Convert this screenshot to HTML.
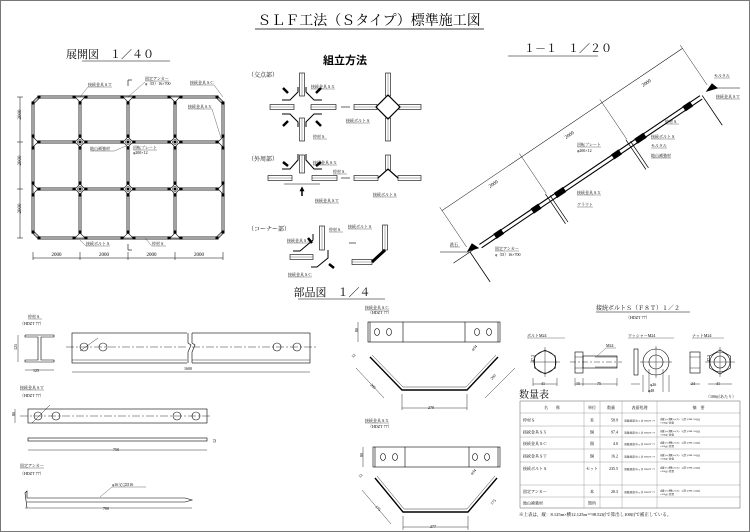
<!DOCTYPE html>
<html><head><meta charset="utf-8"><style>
html,body{margin:0;padding:0;background:#fff}
svg{display:block}
text{font-family:"Liberation Serif","Noto Serif CJK SC","Noto Sans CJK JP",serif;fill:#000}
.s{font-size:4px}.m{font-size:6px}.l{font-size:11px}
</style></head><body>
<svg id="d" width="750" height="532" viewBox="0 0 750 532" xmlns="http://www.w3.org/2000/svg">
<rect x="0.5" y="0.5" width="749" height="531" fill="#fff" stroke="#777" stroke-width="1"/>
<text x="369" y="25" text-anchor="middle" font-size="14">ＳＬＦ工法（Ｓタイプ）標準施工図</text>
<line x1="255" y1="29" x2="484" y2="29" stroke="#000" stroke-width="0.8"/>
<text x="110" y="58" text-anchor="middle" class="l">展開図　１／４０</text>
<line x1="82" y1="61" x2="170" y2="61" stroke="#000" stroke-width="0.6"/>
<text x="345" y="64" text-anchor="middle" font-size="11" font-weight="bold" style="font-family:'Liberation Sans','Noto Sans CJK JP',sans-serif">組立方法</text>
<text x="568" y="52" text-anchor="middle" class="l">１－１　１／２０</text>
<line x1="508" y1="56" x2="598" y2="56" stroke="#000" stroke-width="0.6"/>
<text x="332" y="296" text-anchor="middle" class="l">部品図　１／４</text>
<line x1="298" y1="299" x2="385" y2="299" stroke="#000" stroke-width="0.6"/>
<g id="grid" stroke="#000"></g>
<g id="asm" stroke="#000" fill="none" stroke-width="0.6"></g>
<g id="slope" stroke="#000" fill="none"></g>
<g id="parts" stroke="#000" fill="none" stroke-width="0.6"></g>
<g id="bolt" stroke="#000" fill="none" stroke-width="0.6"></g>
<g id="tbl"></g>
</svg>
<script>
const NS="http://www.w3.org/2000/svg";
function el(g,t,a,txt){const e=document.createElementNS(NS,t);for(const k in a)e.setAttribute(k,a[k]);if(txt!=null)e.textContent=txt;document.getElementById(g).appendChild(e);return e;}
function L(g,x1,y1,x2,y2,w,c,da){const a={x1,y1,x2,y2};if(w)a['stroke-width']=w;if(c)a.stroke=c;if(da)a['stroke-dasharray']=da;return el(g,'line',a);}
function T(g,x,y,s,cls,extra){const a={x,y,class:cls||'s',stroke:'none'};Object.assign(a,extra||{});if(a['font-size']){a.style='font-size:'+a['font-size']+'px';delete a['font-size'];}return el(g,'text',a,s);}
function lbl(g,x,y,s,w){T(g,x,y,s,'s');L(g,x,y+1,x+(w||s.length*4),y+1,0.3);}
// ---- grid
const X=[33,80,128,175,223],Y=[97,142,189,238];
const c=6;
const op=`${X[0]+c},${Y[0]} ${X[4]-c},${Y[0]} ${X[4]},${Y[0]+c} ${X[4]},${Y[3]-c} ${X[4]-c},${Y[3]} ${X[0]+c},${Y[3]} ${X[0]},${Y[3]-c} ${X[0]},${Y[0]+c}`;
el('grid','polygon',{points:op,fill:'none',stroke:'#333','stroke-width':3});
el('grid','polygon',{points:op,fill:'none',stroke:'#c8c8c8','stroke-width':1.5});
for(let i=1;i<3;i++){L('grid',X[0],Y[i],X[4],Y[i],3,'#333');L('grid',X[0],Y[i],X[4],Y[i],1.5,'#c8c8c8');}
for(let i=1;i<4;i++){L('grid',X[i],Y[0],X[i],Y[3],3,'#333');L('grid',X[i],Y[0],X[i],Y[3],1.5,'#c8c8c8');}
for(const x of X)for(const y of Y){
 const inner=x>X[0]&&x<X[4]&&y>Y[0]&&y<Y[3];
 const corner=(x==X[0]||x==X[4])&&(y==Y[0]||y==Y[3]);
 if(inner){el('grid','polygon',{points:`${x},${y-5} ${x+5},${y} ${x},${y+5} ${x-5},${y}`,fill:'#fff','stroke-width':0.6});el('grid','circle',{cx:x,cy:y,r:2.5,fill:'#fff','stroke-width':0.5});el('grid','circle',{cx:x,cy:y,r:1,fill:'#000'});}
 else if(!corner){
  const dx=x==X[0]?1:x==X[4]?-1:0,dy=y==Y[0]?1:y==Y[3]?-1:0;
  if(dy)el('grid','polygon',{points:`${x-5},${y} ${x+5},${y} ${x},${y+dy*5}`,fill:'#fff','stroke-width':0.6});
  else el('grid','polygon',{points:`${x},${y-5} ${x},${y+5} ${x+dx*5},${y}`,fill:'#fff','stroke-width':0.6});
 }
 for(const [dx,dy] of [[6,0],[-6,0],[0,6],[0,-6]]){const xx=x+dx,yy=y+dy;if(xx<X[0]-1||xx>X[4]+1||yy<Y[0]-1||yy>Y[3]+1)continue;if(corner)continue;el('grid','rect',{x:xx-1.5,y:yy-1.5,width:3,height:3,fill:'#000',stroke:'none'});}
 if(corner){const sx=x==X[0]?1:-1,sy=y==Y[0]?1:-1;el('grid','rect',{x:x+sx*c-1.5,y:y-1.5,width:3,height:3,fill:'#000',stroke:'none'});el('grid','rect',{x:x-1.5,y:y+sy*c-1.5,width:3,height:3,fill:'#000',stroke:'none'});}
}
L('grid',20,Y[0],20,Y[3],0.5);for(const y of Y)L('grid',17,y,23,y,0.5);
for(let i=0;i<3;i++)T('grid',15,(Y[i]+Y[i+1])/2+6,'2000','s',{transform:`rotate(-90 15 ${(Y[i]+Y[i+1])/2})`,'font-size':5});
L('grid',X[0],258,X[4],258,0.5);for(const x of X)L('grid',x,252,x,260,0.5);
for(let i=0;i<4;i++)T('grid',(X[i]+X[i+1])/2,256,'2000','s',{'text-anchor':'middle','font-size':5});
lbl('grid',88,86,'接続金具ＳＴ',24);L('grid',88,87,80,97,0.3);
lbl('grid',145,80,'固定アンカー',24);T('grid',145,85,'φ（D）16×700');L('grid',145,82,128,97,0.3);
L('grid',128,80,128,86,0.6);L('grid',128,80,132,80,0.6);L('grid',128,244,128,250,0.6);L('grid',128,250,132,250,0.6);
lbl('grid',190,84,'接続金具ＳＣ',24);L('grid',214,85,223,97,0.3);
lbl('grid',188,108,'接続金具ＳＸ',24);L('grid',212,109,221,138,0.3);
lbl('grid',90,150,'地山補強材',24);L('grid',114,151,126,146,0.3);
lbl('grid',133,149,'回転プレート',24);T('grid',133,154,'φ200×12');
lbl('grid',86,245,'接続ボルトＳ',24);L('grid',86,246,80,240,0.3);
lbl('grid',152,245,'枠材Ｓ',14);L('grid',152,246,145,238,0.3);
// ---- assembly
function bar(g,x1,y1,x2,y2){
 if(y1==y2){el(g,'rect',{x:Math.min(x1,x2),y:y1-2.5,width:Math.abs(x2-x1),height:5});L(g,x1,y1,x2,y1,0.3);}
 else{el(g,'rect',{x:x1-2.5,y:Math.min(y1,y2),width:5,height:Math.abs(y2-y1)});L(g,x1,y1,x1,y2,0.3);}}
T('asm',248,77,'（交点部）','m');T('asm',248,161,'（外周部）','m');T('asm',248,231,'（コーナー部）','m');
bar('asm',302,73,302,96);bar('asm',302,118,302,141);bar('asm',270,107,294,107);bar('asm',311,107,336,107);
for(const [sx,sy] of [[-1,-1],[1,-1],[-1,1],[1,1]]){const cx=302,cy=107;
 el('asm','polyline',{points:`${cx+sx*4},${cy+sy*20} ${cx+sx*4},${cy+sy*15} ${cx+sx*12},${cy+sy*7} ${cx+sx*20},${cy+sy*7}`,'stroke-width':1});
 L('asm',cx+sx*19,cy+sy*19,cx+sx*14,cy+sy*14,2.5);}
L('asm',341,107,350,107,0.6);
bar('asm',388,73,388,96);bar('asm',388,118,388,141);bar('asm',354,107,377,107);bar('asm',399,107,421,107);
el('asm','polygon',{points:'388,95 400,107 388,119 376,107','stroke-width':1.2});
lbl('asm',311,88,'接続金具ＳＸ',24);lbl('asm',313,138,'枠材Ｓ',14);lbl('asm',346,122,'接続ボルトＳ',24);
bar('asm',302,155,302,173);bar('asm',268,178,292,178);bar('asm',312,178,337,178);L('asm',284,184,320,184,0.5);
for(const sx of [-1,1]){el('asm','polyline',{points:`${302+sx*4},${154} ${302+sx*4},${160} ${302+sx*12},${169} ${302+sx*20},${169}`,'stroke-width':1});L('asm',302+sx*19,162,302+sx*14,166,2.5);}
L('asm',302,196,302,190,1.5);el('asm','polygon',{points:'300,191 304,191 302,187',fill:'#000'});
L('asm',341,178,350,178,0.6);
bar('asm',388,155,388,170);bar('asm',354,178,378,178);bar('asm',398,178,421,178);
el('asm','polyline',{points:'378,178 388,169 398,178','stroke-width':1.2});
lbl('asm',313,164,'接続金具ＳＸ',24);lbl('asm',333,173,'枠材Ｓ',14);lbl('asm',315,202,'接続金具ＳＴ',24);lbl('asm',373,196,'接続ボルトＳ',24);
bar('asm',322,226,322,250);bar('asm',290,257,313,257);
el('asm','polyline',{points:'313,234 313,240 300,251 293,251','stroke-width':1});
el('asm','polyline',{points:'328,250 328,258 317,267 311,267','stroke-width':1});
L('asm',308,238,312,243,2.5);L('asm',334,268,329,264,2.5);
lbl('asm',329,231,'枠材Ｓ',14);lbl('asm',287,242,'接続金具ＳＸ',24);lbl('asm',288,276,'接続金具ＳＣ',24);
L('asm',349,243,356,243,0.6);
bar('asm',385,225,385,250);bar('asm',352,262,372,262);el('asm','polyline',{points:'385,250 372,262','stroke-width':3});
lbl('asm',348,228,'接続ボルトＳ',24);
// ---- slope
const S='slope';
const sg=el(S,'g',{transform:'translate(470 252) rotate(-34)'});
function sl(x1,y1,x2,y2,w){const e=document.createElementNS(NS,'line');[['x1',x1],['y1',y1],['x2',x2],['y2',y2],['stroke-width',w||0.6]].forEach(([k,v])=>e.setAttribute(k,v));sg.appendChild(e);}
function sr(x,y,w,h){const e=document.createElementNS(NS,'rect');[['x',x],['y',y],['width',w],['height',h],['fill','#000']].forEach(([k,v])=>e.setAttribute(k,v));sg.appendChild(e);}
sl(12,-1,278,-1,1.1);sl(12,3,278,3,1.1);
for(const n of [95,192]){sl(n,-6,n,30,0.7);sl(n+3,-2,n+3,30,0.7);sr(n-20,-1.5,8,5);sr(n+8,-1.5,10,5);}
sr(30,-1.5,8,5);sr(258,-1.5,8,5);
sl(-20,0,8,0,0.6);sl(0,0,0,36,0.8);sl(280,0,280,36,0.8);
sl(0,-50,290,-50,0.5);for(const n of [0,96,193,290])sl(n,-54,n,-6,0.4);
el(S,'polygon',{points:'468,251 478,248 472,244',fill:'#000'});
el(S,'polygon',{points:'707,91 717,88 712,84',fill:'#000'});
L(S,440,252,470,252,0.5);L(S,710,88,740,88,0.5);
const dims=[[490,188],[566,139],[643,87]];for(const [x,y] of dims)T(S,x,y,'2000','s',{transform:`rotate(-34 ${x} ${y})`,'font-size':5});
lbl(S,450,246,'鉄石',10);lbl(S,495,250,'固定アンカー',24);T(S,495,256,'φ（D）16×700');
lbl(S,577,194,'接続金具ＳＸ',24);lbl(S,577,206,'グラウト',16);
lbl(S,577,146,'回転プレート',24);T(S,577,152,'φ200×12');
lbl(S,651,138,'接続ボルトＳ',24);lbl(S,651,147,'モルタル',16);lbl(S,651,157,'地山補強材',20);lbl(S,665,123,'枠材Ｓ',14);
lbl(S,714,77,'モルタル',16);lbl(S,716,98,'接続金具ＳＴ',24);
// ---- parts
const P='parts';
lbl(P,28,318,'枠材Ｓ',14);T(P,20,325,'（HDZT 77）');
el(P,'polyline',{points:'25,335 54,335 54,337 41,337 41,360 54,360 54,362 25,362 25,360 38,360 38,337 25,337 25,335'});
L(P,18,335,18,362,0.4);T(P,15,352,'125','s',{transform:'rotate(-90 15 350)'});L(P,25,370,54,370,0.4);T(P,33,372,'125');
el(P,'rect',{x:72,y:333,width:238,height:30});L(P,72,360,310,360,0.4);L(P,66,347,316,347,0.4,null,'8 2 2 2');
for(const x of [84,103,277,297])el(P,'circle',{cx:x,cy:347,r:4});L(P,80,351,98,338,0.4);
el(P,'rect',{x:187,y:330,width:5,height:36,fill:'#fff',stroke:'none'});el(P,'polyline',{points:'188,333 188,343 191,345 188,352 188,363'});el(P,'polyline',{points:'192,333 192,343 195,345 192,352 192,363'});
L(P,72,372,310,372,0.4);T(P,184,370,'1600');
lbl(P,20,389,'接続金具ＳＴ',24);T(P,20,397,'（HDZT 77）');
el(P,'rect',{x:28,y:409,width:179,height:14});L(P,20,416,212,416,0.4,null,'8 2 2 2');
for(const x of [38,56,177,196])el(P,'circle',{cx:x,cy:416,r:4});L(P,32,423,50,405,0.4);
L(P,15,409,15,423,0.4);T(P,13,418,'80','s',{transform:'rotate(-90 13 416)'});
el(P,'rect',{x:28,y:438,width:179,height:3});L(P,28,450,207,450,0.4);T(P,113,451,'750');T(P,214,445,'12','s',{transform:'rotate(-90 214 443)'});
lbl(P,20,467,'固定アンカー',24);T(P,20,475,'（HDZT 77）');
el(P,'polyline',{points:'27,508 25,493 27,491 27,498 185,498 192,500 185,502 27,502'});
L(P,25,508,192,508,0.4);T(P,103,510,'700');
lbl(P,112,486,'φ16又はD16',34);L(P,112,487,100,497,0.3);
lbl(P,365,309,'接続金具ＳＣ',24);T(P,368,314,'（HDZT 77）');
el(P,'rect',{x:368,y:322,width:132,height:20});L(P,403,322,403,342);L(P,465,322,465,342);L(P,370,322,370,342);L(P,498,322,498,342);
for(const x of [377,389,477,489])el(P,'ellipse',{cx:x,cy:332,rx:2.5,ry:3.5});
L(P,358,322,358,342,0.4);T(P,356,334,'80','s',{transform:'rotate(-90 356 332)'});
el(P,'polyline',{points:'370,357 402,390 467,390 498,357','stroke-width':1.4});el(P,'polyline',{points:'372,355 403,387 466,387 496,355','stroke-width':0.4});
L(P,402,394,402,410,0.4);L(P,467,394,467,410,0.4);L(P,402,408,467,408,0.4);T(P,428,409,'270');
L(P,356,368,384,398,0.4);L(P,515,368,485,398,0.4);T(P,370,385,'200','s',{transform:'rotate(45 370 385)'});T(P,492,380,'200','s',{transform:'rotate(-45 492 380)'});
T(P,353,358,'12','s',{transform:'rotate(-45 353 358)'});T(P,473,351,'φ34','s',{transform:'rotate(-45 473 351)'});
lbl(P,365,422,'接続金具ＳＸ',24);T(P,368,428,'（HDZT 77）');
el(P,'rect',{x:373,y:447,width:127,height:20});L(P,405,447,405,467);L(P,469,447,469,467);L(P,375,447,375,467);L(P,498,447,498,467);
for(const x of [383,395,475,487])el(P,'ellipse',{cx:x,cy:457,rx:2.5,ry:3.5});
L(P,363,447,363,467,0.4);T(P,361,459,'80','s',{transform:'rotate(-90 361 457)'});
el(P,'polyline',{points:'375,478 403,512 468,512 497,478','stroke-width':1.4});el(P,'polyline',{points:'377,476 404,509 467,509 495,476','stroke-width':0.4});
L(P,403,516,403,530,0.4);L(P,468,516,468,530,0.4);L(P,403,527,468,527,0.4);T(P,430,528,'277');
L(P,362,490,391,524,0.4);T(P,375,507,'175','s',{transform:'rotate(45 375 507)'});T(P,492,505,'175','s',{transform:'rotate(-45 492 505)'});
T(P,360,478,'12','s',{transform:'rotate(-45 360 478)'});T(P,472,475,'φ34','s',{transform:'rotate(-45 472 475)'});
// ---- bolt
const B='bolt';
T(B,596,310,'接続ボルトＳ（Ｆ８Ｔ）１／２','m');L(B,596,312,690,312,0.5);T(B,626,319,'（HDZT 77）');
lbl(B,527,337,'ボルトM24',38);lbl(B,628,337,'ワッシャーM24',46);lbl(B,692,337,'ナットM24',32);
function hex(cx,cy,r){let p=[];for(let i=0;i<6;i++){const a=Math.PI/3*i+Math.PI/6;p.push((cx+r*Math.cos(a))+','+(cy+r*Math.sin(a)));}el(B,'polygon',{points:p.join(' ')});}
hex(545,362,12);el(B,'circle',{cx:545,cy:362,r:11});L(B,530,362,560,362,0.4);L(B,545,347,545,377,0.4);
L(B,533,378,533,386,0.4);L(B,557,378,557,386,0.4);L(B,533,384,557,384,0.4);T(B,541,385,'41');T(B,528,368,'47.3','s',{transform:'rotate(-90 528 362)'});
el(B,'rect',{x:575,y:352,width:8,height:21});L(B,575,357,583,357,0.4);L(B,575,368,583,368,0.4);
el(B,'rect',{x:583,y:356,width:34,height:12});L(B,595,357,617,357,0.4);L(B,595,367,617,367,0.4);L(B,570,362,622,362,0.4,null,'6 2 2 2');
lbl(B,606,347,'M24',10);L(B,606,348,597,356,0.3);
L(B,575,378,575,386,0.4);L(B,583,378,583,386,0.4);L(B,617,378,617,386,0.4);L(B,575,384,617,384,0.4);T(B,576,385,'15');T(B,597,385,'75');
el(B,'rect',{x:634,y:349,width:4,height:26});
el(B,'circle',{cx:656,cy:362,r:13});el(B,'circle',{cx:656,cy:362,r:7});L(B,640,362,672,362,0.4);L(B,656,346,656,378,0.4);
L(B,649,369,649,392,0.4);L(B,663,369,663,392,0.4);L(B,643,375,643,392,0.4);L(B,669,375,669,392,0.4);T(B,650,386,'φ26');T(B,648,392,'φ48');
L(B,631,384,640,384,0.4);
el(B,'rect',{x:690,y:352,width:10,height:21});L(B,690,357,700,357,0.4);L(B,690,368,700,368,0.4);T(B,691,385,'24');L(B,690,384,700,384,0.4);
hex(720,362,12);el(B,'circle',{cx:720,cy:362,r:10});el(B,'circle',{cx:720,cy:362,r:6});L(B,705,362,735,362,0.4);L(B,720,347,720,377,0.4);
L(B,708,384,732,384,0.4);T(B,716,385,'41');T(B,704,368,'47.3','s',{transform:'rotate(-90 704 362)'});
// ---- table
const G='tbl';
T(G,519,398,'数量表','s',{'font-size':10});T(G,706,398,'（100㎡あたり）');
const cx=[520,584,600,622,657,740],ry=[401,413,426,437,449,462,485,497,508];
el(G,'rect',{x:520,y:401,width:220,height:107,fill:'none',stroke:'#888','stroke-width':0.5});
for(const x of cx)L(G,x,401,x,508,0.4,'#888');for(const y of ry)L(G,520,y,740,y,0.4,'#888');
const hdr=['名　　称','単位','数量','表面処理','摘　要'];
hdr.forEach((h,i)=>T(G,(cx[i]+cx[i+1])/2,409,h,'s',{'text-anchor':'middle'}));
const rows=[['枠材Ｓ','本','58.9'],['接続金具ＳＸ','個','97.4'],['接続金具ＳＣ','個','4.0'],['接続金具ＳＴ','個','16.2'],['接続ボルトＳ','セット','235.5'],['固定アンカー','本','20.3'],['地山補強材','箇所','']];
rows.forEach((r,i)=>{const y0=ry[i+1],y1=ry[i+2];const y=i==4?y0+8:(y0+y1)/2+2;
 T(G,523,y,r[0]);T(G,592,y,r[1],'s',{'text-anchor':'middle'});T(G,618,y,r[2],'s',{'text-anchor':'end'});
 if(r[2]){T(G,624,y,'溶融亜鉛めっき HDZT 77','s',{'font-size':2.5,textLength:31,lengthAdjust:'spacingAndGlyphs'});T(G,660,y-1.5,'(縦)×(横)×(2) ÷(計)/98.52㎡','s',{'font-size':2.5,textLength:40,lengthAdjust:'spacingAndGlyphs'});T(G,660,y+2,'×100㎡=数量','s',{'font-size':2.5});}});
T(G,519,516,'※上表は，縦：8.125m×横12.125m＝98.52㎡で算出し100㎡で補正している。','s',{'font-size':4.5});
</script>
</body></html>
